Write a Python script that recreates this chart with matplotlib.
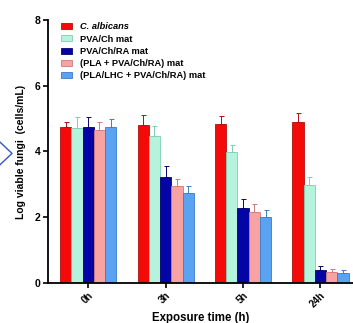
import numpy as np
import matplotlib
matplotlib.use("Agg")
import matplotlib.pyplot as plt
from matplotlib.lines import Line2D

plt.rcParams['font.family'] = ['Liberation Sans', 'DejaVu Sans']

time_points = ["0h", "3h", "5h", "24h"]
series_names = ["C. albicans", "PVA/Ch mat", "PVA/Ch/RA mat",
                "(PLA + PVA/Ch/RA) mat", "(PLA/LHC + PVA/Ch/RA) mat"]
c_albicans = [4.75, 4.82, 4.83, 4.89]
pva_ch = [4.71, 4.47, 3.99, 2.97]
pva_ch_ra = [4.73, 3.21, 2.29, 0.40]
pla_pva = [4.65, 2.95, 2.16, 0.33]
pla_lhc_pva = [4.73, 2.73, 2.00, 0.30]
err_c_albicans = [0.14, 0.30, 0.25, 0.29]
err_pva_ch = [0.33, 0.30, 0.22, 0.26]
err_pva_ch_ra = [0.31, 0.35, 0.25, 0.11]
err_pla_pva = [0.24, 0.20, 0.23, 0.10]
err_pla_lhc_pva = [0.26, 0.22, 0.21, 0.08]

values = [c_albicans, pva_ch, pva_ch_ra, pla_pva, pla_lhc_pva]
errors = [err_c_albicans, err_pva_ch, err_pva_ch_ra, err_pla_pva, err_pla_lhc_pva]
face = ["#f50a0a", "#b5f3dc", "#0505a5", "#f7a3a3", "#5aa2f2"]
edge = ["#b01010", "#7fcfb2", "#05056e", "#d07a7a", "#3a7cc8"]

fig = plt.figure(figsize=(3.53, 3.23), dpi=100)
ax = fig.add_axes([0.136, 0.124, 0.864, 0.814])

x = np.arange(len(time_points))
w = 0.145
for i, (vals, errs) in enumerate(zip(values, errors)):
    pos = x + (i - 2) * w
    ax.bar(pos, vals, width=w, color=face[i], edgecolor=edge[i], linewidth=0.6,
           label=series_names[i], zorder=2)
    ax.errorbar(pos, vals, yerr=[np.zeros(len(errs)), errs], fmt='none',
                ecolor=edge[i], elinewidth=0.7, capsize=1.8, capthick=0.7, zorder=1)

ax.set_xlim(-0.52, 3.42)
ax.set_ylim(0, 8)
ax.set_yticks([0, 2, 4, 6, 8])
ax.set_xticks(x)
ax.set_xticklabels(time_points, rotation=45, ha='right', rotation_mode='anchor',
                   fontsize=7, fontweight='bold')
for lab in ax.get_yticklabels():
    lab.set_fontsize(7.5)
    lab.set_fontweight('bold')
ax.tick_params(axis='both', direction='out', length=3.5, width=1.2, pad=2)
ax.tick_params(axis='x', pad=2)
ax.spines['top'].set_visible(False)
ax.spines['right'].set_visible(False)
ax.spines['left'].set_linewidth(1.3)
ax.spines['bottom'].set_linewidth(1.3)

ax.set_ylabel("Log viable fungi  (cells/mL)", fontsize=7.5, fontweight='bold', labelpad=6)
ax.set_xlabel("Exposure time (h)", fontsize=8.3, fontweight='bold', labelpad=2)

leg = ax.legend(loc='upper left', bbox_to_anchor=(0.03, 1.005), frameon=False,
                fontsize=6.7, handlelength=1.15, handleheight=0.6,
                handletextpad=0.9, labelspacing=0.35, borderaxespad=0)
for t in leg.get_texts():
    t.set_fontweight('bold')
leg.get_texts()[0].set_fontstyle('italic')

# decorative chevron at the left edge
fig.add_artist(Line2D([0.0, 0.034, 0.0], [0.56, 0.525, 0.49],
                      transform=fig.transFigure, color="#3355cc", linewidth=1.0))

fig.savefig("out.png", dpi=100)
